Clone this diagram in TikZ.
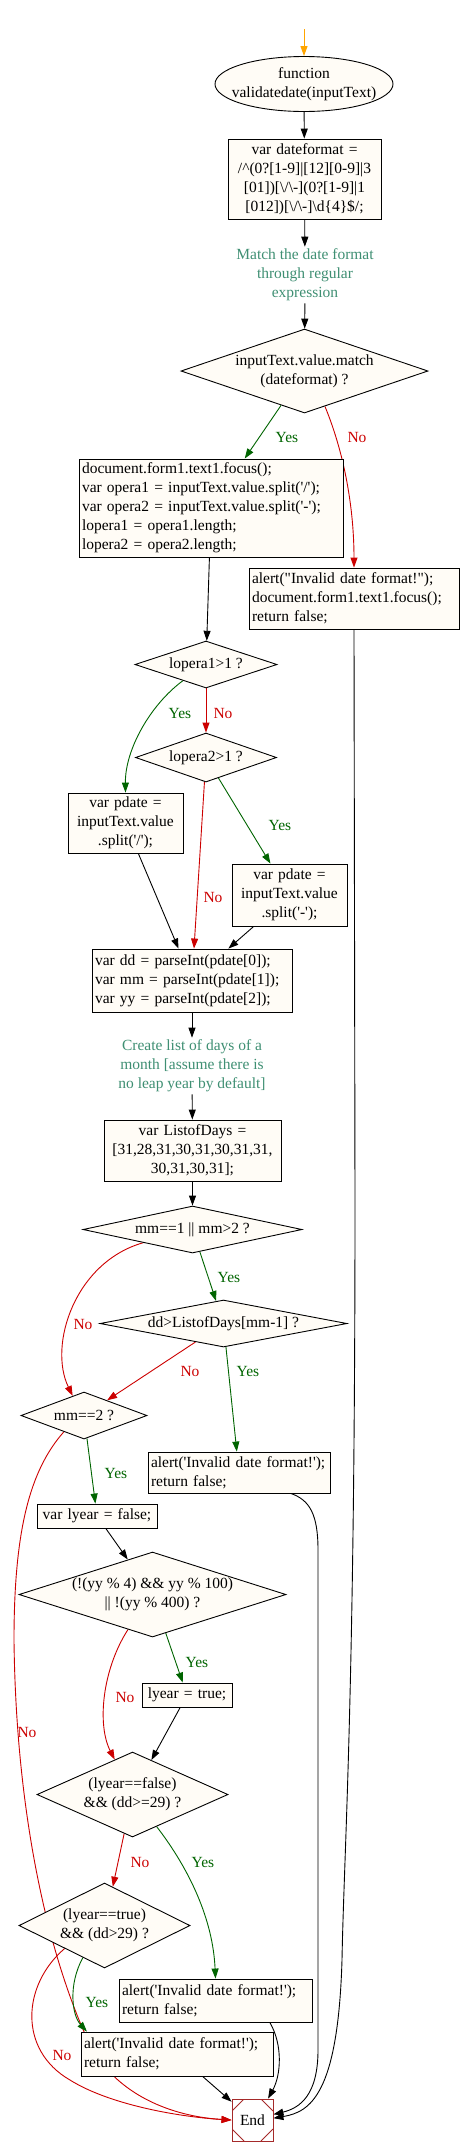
\documentclass[tikz,border=0pt]{standalone}
\usepackage{fontspec}
\setmainfont{Liberation Serif}
\usetikzlibrary{shapes.geometric,arrows.meta}
\definecolor{boxfill}{HTML}{FFFCF6}
\definecolor{notecol}{HTML}{3F8F73}
\definecolor{yescol}{HTML}{006400}
\definecolor{nocol}{HTML}{CC0000}
\definecolor{endcol}{HTML}{A52A2A}
\definecolor{startcol}{HTML}{FFA500}
\newcommand{\squote}{\textquotesingle}
\newcommand{\dquote}{\textquotedbl}
\hyphenpenalty=10000
\exhyphenpenalty=10000
\pgfdeclarelayer{edges}
\pgfsetlayers{edges,main}
\tikzset{
  proc/.style={draw, fill=boxfill, line width=0.9pt, inner xsep=3pt, inner ysep=0pt},
  cbox/.style={proc, align=center},
  lbox/.style={proc, align=left},
  dec/.style={diamond, draw, fill=boxfill, line width=0.9pt, inner sep=0pt, align=center},
  note/.style={text=notecol, align=center, inner sep=2pt},
  ylbl/.style={text=yescol, inner sep=0pt},
  nlbl/.style={text=nocol, inner sep=0pt},
  arr/.style={line width=0.9pt, -{Triangle[length=10pt,width=7pt]}},
  yesline/.style={yescol},
  noline/.style={nocol},
  endnode/.style={rectangle, draw=endcol, fill=white, line width=0.9pt,
    minimum width=41pt, minimum height=42pt, inner sep=0pt,
    path picture={
      \draw[endcol] ([yshift=-12pt]path picture bounding box.north west) -- ([xshift=12pt]path picture bounding box.north west);
      \draw[endcol] ([yshift=-12pt]path picture bounding box.north east) -- ([xshift=-12pt]path picture bounding box.north east);
      \draw[endcol] ([yshift=12pt]path picture bounding box.south west) -- ([xshift=12pt]path picture bounding box.south west);
      \draw[endcol] ([yshift=12pt]path picture bounding box.south east) -- ([xshift=-12pt]path picture bounding box.south east);
    }},
}
\begin{document}
\begin{tikzpicture}[x=1pt, y=-1pt, font=\fontsize{15.5}{19}\selectfont]
  \useasboundingbox (0,0) rectangle (462,2156);
  % start of the function
  \coordinate (in) at (304,29);
  \node[ellipse, draw, fill=boxfill, line width=0.9pt, align=center, inner xsep=-10pt, inner ysep=2pt,
        minimum width=178pt, minimum height=55pt] (fn) at (304,84) {function\\validatedate(inputText)};
  \node[cbox, minimum width=153pt, text width=147pt, minimum height=80pt] (fmt) at (304.5,179)
    {var dateformat =\\/\textasciicircum(0?[1-9]|[12][0-9]|3\\{}[01])[\textbackslash/\textbackslash-](0?[1-9]|1\\{}[012])[\textbackslash/\textbackslash-]\textbackslash d\{4\}\$/;};
  \node[note] (note1) at (305,275) {Match the date format\\through regular\\expression};
  \node[dec, aspect=2.9, minimum width=247pt, minimum height=84pt] (dia1) at (304.5,371) {inputText.value.match\\(dateformat) ?};
  \node[lbox, minimum width=264pt, text width=258pt, minimum height=98pt] (box1) at (211,508)
    {document.form1.text1.focus();\\var opera1 = inputText.value.split(\squote/\squote);\\var opera2 = inputText.value.split(\squote-\squote);\\lopera1 = opera1.length;\\lopera2 = opera2.length;};
  \node[lbox, minimum width=210pt, text width=204pt, minimum height=61pt] (alert1) at (354,598.5)
    {alert(\dquote Invalid date format!\dquote);\\document.form1.text1.focus();\\return false;};
  % split into parts
  \node[dec, aspect=3.5, minimum width=142pt, minimum height=47pt] (lop1) at (206,664.5) {lopera1>1 ?};
  \node[dec, aspect=3.5, minimum width=141pt, minimum height=49pt] (lop2) at (206,757.5) {lopera2>1 ?};
  \node[cbox, minimum width=115pt, text width=109pt, minimum height=60pt] (pd1) at (125.5,823) {var pdate =\\inputText.value\\.split(\squote/\squote);};
  \node[cbox, minimum width=115pt, text width=109pt, minimum height=62pt] (pd2) at (289.5,895) {var pdate =\\inputText.value\\.split(\squote-\squote);};
  \node[lbox, minimum width=200pt, text width=194pt, minimum height=63pt] (dd) at (192,980.5)
    {var dd = parseInt(pdate[0]);\\var mm = parseInt(pdate[1]);\\var yy = parseInt(pdate[2]);};
  \node[note] (note2) at (192,1066) {Create list of days of a\\month [assume there is\\no leap year by default]};
  \node[cbox, minimum width=177pt, text width=171pt, minimum height=61pt] (days) at (192.5,1150.5)
    {var ListofDays =\\{}[31,28,31,30,31,30,31,31,\\30,31,30,31];};
  % month and day checks
  \node[dec, aspect=5, minimum width=219pt, minimum height=47pt] (mm1) at (192.5,1229.5) {mm==1 || mm>2 ?};
  \node[dec, aspect=5, minimum width=247pt, minimum height=47pt] (ddl) at (223.5,1323.5) {dd>ListofDays[mm-1] ?};
  \node[dec, aspect=3, minimum width=126pt, minimum height=47pt] (mm2) at (84,1415.5) {mm==2 ?};
  \node[lbox, minimum width=182pt, text width=176pt, minimum height=41pt] (a2) at (239,1472.5)
    {alert(\squote Invalid date format!\squote);\\return false;};
  \node[cbox, minimum width=120pt, text width=114pt, minimum height=24pt] (ly0) at (97,1516) {var lyear = false;};
  % leap year
  \node[dec, aspect=3.2, minimum width=267pt, minimum height=85pt] (yy) at (152.5,1594.5) {(!(yy \% 4) \&\& yy \% 100)\\|| !(yy \% 400) ?};
  \node[cbox, minimum width=90pt, text width=84pt, minimum height=24pt] (ly1) at (187,1695) {lyear = true;};
  \node[dec, aspect=2.25, minimum width=191pt, minimum height=85pt] (lf) at (132.5,1794.5) {(lyear==false)\\\&\& (dd>=29) ?};
  \node[dec, aspect=2, minimum width=171pt, minimum height=85pt] (lt) at (104.5,1925.5) {(lyear==true)\\\&\& (dd>29) ?};
  \node[lbox, minimum width=193pt, text width=187pt, minimum height=43pt] (a3) at (215.5,2000.5)
    {alert(\squote Invalid date format!\squote);\\return false;};
  \node[lbox, minimum width=192pt, text width=186pt, minimum height=44pt] (a4) at (177,2054)
    {alert(\squote Invalid date format!\squote);\\return false;};
  \node[endnode] (end) at (252.5,2120) {End};
  % branch labels
  \node[ylbl] (y1) at (287,437) {Yes};
  \node[nlbl] (n1) at (357,437) {No};
  \node[ylbl] (y2) at (180,713) {Yes};
  \node[nlbl] (n2) at (223,713) {No};
  \node[ylbl] (y3) at (280,825) {Yes};
  \node[nlbl] (n3) at (213,897) {No};
  \node[ylbl] (y4) at (229,1277) {Yes};
  \node[nlbl] (n4) at (83,1324) {No};
  \node[nlbl] (n5) at (190,1371) {No};
  \node[ylbl] (y5) at (248,1371) {Yes};
  \node[ylbl] (y6) at (116,1473) {Yes};
  \node[nlbl] (n6) at (27,1732) {No};
  \node[ylbl] (y7) at (197,1662) {Yes};
  \node[nlbl] (n7) at (125,1697) {No};
  \node[nlbl] (n8) at (140,1862) {No};
  \node[ylbl] (y8) at (203,1862) {Yes};
  \node[ylbl] (y9) at (97,2002) {Yes};
  \node[nlbl] (n9) at (62,2055) {No};
  % connectors
  \begin{pgfonlayer}{edges}
  \draw[arr, startcol] (in) -- (fn);
  \draw[arr] (fn) -- (fmt);
  \draw[arr] (fmt) -- (note1);
  \draw[arr] (note1) -- (dia1);
  \draw[arr, yesline] (dia1) -- (box1);
  \draw[arr, noline] (dia1.-60) .. controls (345,455) and (354,510) .. (alert1.north);
  \draw[arr] (box1) -- (lop1);
  \draw[arr, noline] (lop1) -- (lop2);
  \draw[arr, yesline] (lop1.215) .. controls (150,705) and (125,750) .. (pd1.north);
  \draw[arr, yesline] (lop2) -- (pd2);
  \draw[arr, noline] (lop2) -- (dd);
  \draw[arr] (pd1) -- (dd);
  \draw[arr] (pd2) -- (dd);
  \draw[arr] (dd) -- (note2);
  \draw[arr] (note2) -- (days);
  \draw[arr] (days) -- (mm1);
  \draw[arr, yesline] (mm1) -- (ddl);
  \draw[arr, noline] (mm1.195) .. controls (75,1262) and (48,1345) .. (mm2.120);
  \draw[arr, noline] (ddl) -- (mm2);
  \draw[arr, yesline] (ddl) -- (a2);
  \draw[arr, yesline] (mm2) -- (ly0);
  \draw[arr, noline] (mm2.219) .. controls (30,1470) and (14,1530) .. (14,1640)
    .. controls (16,1820) and (50,1960) .. (90,2045) .. controls (120,2100) and (180,2117) .. (end.west);
  \draw[arr] (ly0) -- (yy);
  \draw[arr, yesline] (yy) -- (ly1);
  \draw[arr, noline] (yy.235) .. controls (102,1670) and (97,1725) .. (lf.117);
  \draw[arr] (ly1) -- (lf);
  \draw[arr, noline] (lf) -- (lt);
  \draw[arr, yesline] (lf.-53) .. controls (190,1870) and (213,1920) .. (a3.north);
  \draw[arr, yesline] (lt.236) .. controls (68,1985) and (72,2015) .. (a4.166);
  \draw[arr, noline] (lt.210) .. controls (22,1985) and (18,2050) .. (70,2080)
    .. controls (110,2105) and (180,2117) .. (end.west);
  \draw[arr] (a4) -- (end);
  \draw[arr] (a3.338) .. controls (283,2045) and (281,2075) .. (end.54);
  \draw[arr] (a2.338) .. controls (310,1500) and (318,1515) .. (318,1550) -- (318,2050)
    .. controls (318,2095) and (300,2108) .. (end.15);
  \draw[arr] (alert1.south) -- (355,1200) .. controls (355,1700) and (344,1850) .. (342,1960)
    .. controls (338,2095) and (310,2112) .. (end.5);
  \end{pgfonlayer}
\end{tikzpicture}
\end{document}
